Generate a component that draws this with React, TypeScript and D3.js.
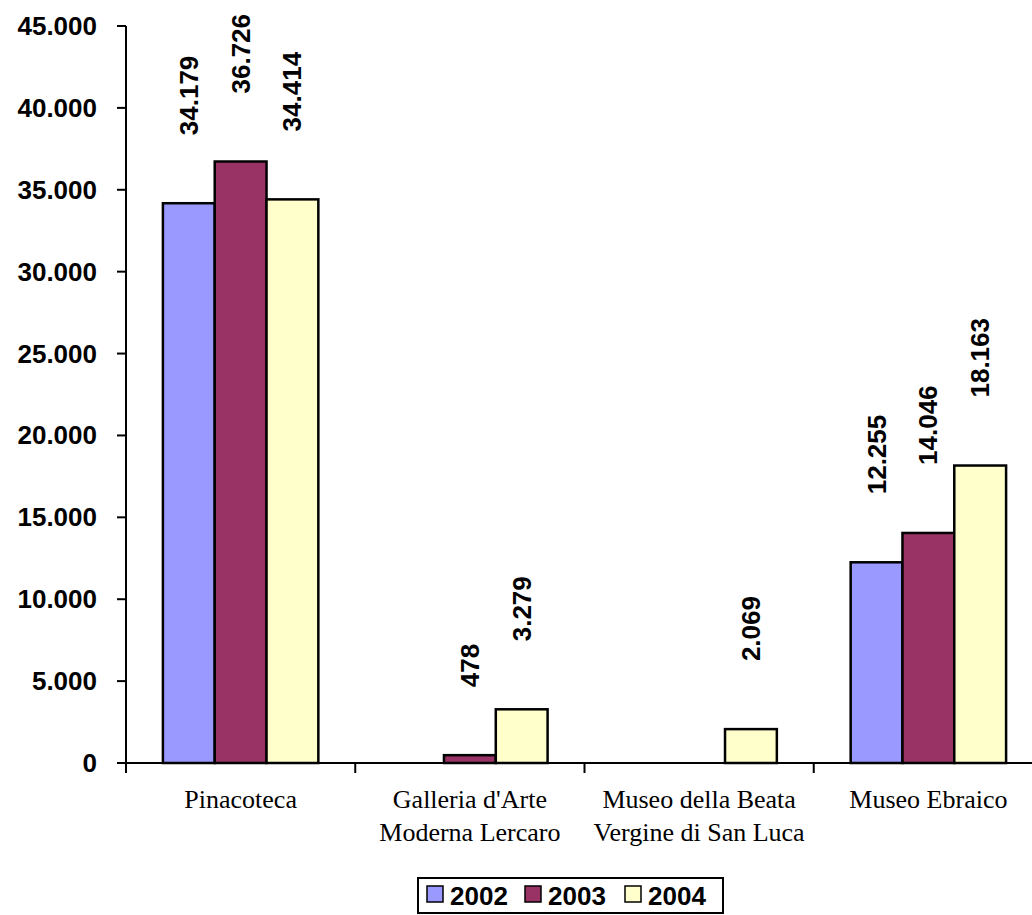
import React from "react";
import * as d3 from "d3";

const categories: string[][] = [
  ["Pinacoteca"],
  ["Galleria d'Arte", "Moderna Lercaro"],
  ["Museo della Beata", "Vergine di San Luca"],
  ["Museo Ebraico"],
];
const seriesNames = ["2002", "2003", "2004"];
const seriesColors = ["#9999FF", "#993366", "#FFFFCC"];
const values2002: (number | null)[] = [34179, null, null, 12255];
const values2003: (number | null)[] = [36726, 478, null, 14046];
const values2004: (number | null)[] = [34414, 3279, 2069, 18163];
const yTicks = [0, 5000, 10000, 15000, 20000, 25000, 30000, 35000, 40000, 45000];

const fmt = (v: number) => (v === 0 ? "0" : d3.format(",")(v).replace(/,/g, "."));

export default function App() {
  const W = 1032, H = 915;
  const x0 = 126, x1 = 1043, yTop = 26, yBottom = 763;
  const series = [values2002, values2003, values2004];
  const y = d3.scaleLinear().domain([0, 45000]).range([yBottom, yTop]);
  const xc = d3.scaleBand<number>().domain(categories.map((_, i) => i)).range([x0, x1]).padding(0);
  const band = xc.bandwidth();
  const bw = band * 0.226;
  const pad = (band - 3 * bw) / 2;
  const xs = d3.scaleBand<number>().domain([0, 1, 2]).range([pad, band - pad]).padding(0);
  const font = "'Liberation Sans', Arial, sans-serif";
  const serif = "'Liberation Serif', 'Times New Roman', serif";

  const legendX = 418, legendY = 878, legendW = 305, legendH = 35;
  const legendItems = [427, 525, 625];

  return (
    <svg width={W} height={H} style={{ position: "absolute", left: 0, top: 0, background: "#fff" }}>
      <rect x={0} y={0} width={W} height={H} fill="#fff" />
      {/* bars */}
      {categories.map((_, ci) =>
        series.map((vals, si) => {
          const v = vals[ci];
          if (v == null) return null;
          const bx = (xc(ci) as number) + (xs(si) as number);
          return (
            <rect key={`b${ci}-${si}`} x={bx} y={y(v)} width={xs.bandwidth()} height={yBottom - y(v)}
              fill={seriesColors[si]} stroke="#000" strokeWidth={2.5} />
          );
        })
      )}
      {/* value labels */}
      {categories.map((_, ci) =>
        series.map((vals, si) => {
          const v = vals[ci];
          if (v == null) return null;
          const cx = (xc(ci) as number) + (xs(si) as number) + xs.bandwidth() / 2;
          const ly = y(v) - 68;
          return (
            <text key={`l${ci}-${si}`} transform={`translate(${cx + 9},${ly}) rotate(-90)`}
              fontFamily={font} fontWeight="bold" fontSize={26} fill="#000">
              {fmt(v)}
            </text>
          );
        })
      )}
      {/* y axis */}
      <line x1={x0} y1={yTop} x2={x0} y2={yBottom + 1} stroke="#000" strokeWidth={2} />
      {yTicks.map((t) => (
        <g key={`yt${t}`}>
          <line x1={x0 - 9} x2={x0} y1={y(t)} y2={y(t)} stroke="#000" strokeWidth={2} />
          <text x={97} y={y(t) + 9} textAnchor="end" fontFamily={font} fontWeight="bold" fontSize={26} fill="#000">
            {fmt(t)}
          </text>
        </g>
      ))}
      {/* x axis */}
      <line x1={x0 - 9} y1={yBottom} x2={W} y2={yBottom} stroke="#000" strokeWidth={2} />
      {categories.map((_, ci) => (
        <line key={`xt${ci}`} x1={xc(ci) as number} x2={xc(ci) as number} y1={yBottom} y2={yBottom + 10}
          stroke="#000" strokeWidth={2} />
      ))}
      {categories.map((lines, ci) => (
        <text key={`xl${ci}`} textAnchor="middle" fontFamily={serif} fontSize={26} fill="#000">
          {lines.map((l, li) => (
            <tspan key={li} x={(xc(ci) as number) + band / 2} y={808 + li * 33}>{l}</tspan>
          ))}
        </text>
      ))}
      {/* legend */}
      <rect x={legendX} y={legendY} width={legendW} height={legendH} fill="#fff" stroke="#000" strokeWidth={2} />
      {seriesNames.map((n, si) => (
        <g key={`lg${si}`}>
          <rect x={legendItems[si]} y={886} width={16} height={16} fill={seriesColors[si]} stroke="#000" strokeWidth={1.5} />
          <text x={legendItems[si] + 23} y={905} fontFamily={font} fontWeight="bold" fontSize={26} fill="#000">{n}</text>
        </g>
      ))}
    </svg>
  );
}
